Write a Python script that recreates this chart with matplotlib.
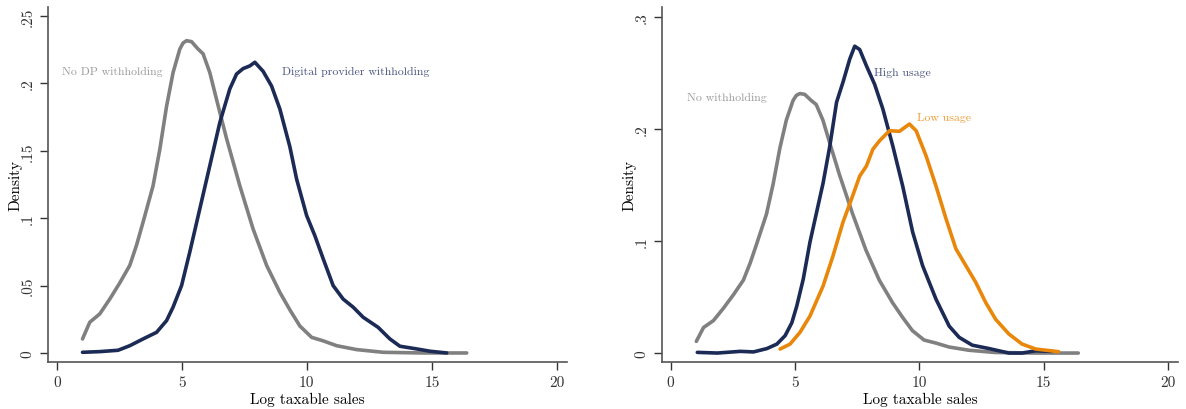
import numpy as np
import matplotlib
matplotlib.use('Agg')
import matplotlib.pyplot as plt

plt.rcParams['font.family'] = ['cmr10', 'DejaVu Serif']
plt.rcParams['axes.unicode_minus'] = False
plt.rcParams['lines.solid_joinstyle'] = 'round'
plt.rcParams['lines.solid_capstyle'] = 'round'

# No withholding (same curve in both panels)
x_none = [1.03, 1.32, 1.72, 2.12, 2.52, 2.92, 3.19, 3.45, 3.85, 4.12, 4.39, 4.65, 4.92,
          5.05, 5.19, 5.39, 5.65, 5.85, 6.12, 6.39, 6.79, 7.32, 7.85, 8.39, 8.92, 9.32,
          9.72, 10.19, 10.65, 11.19, 11.99, 13.05, 14.65, 16.39]
y_none = [0.0104, 0.0228, 0.029, 0.040, 0.052, 0.065, 0.080, 0.097, 0.124, 0.151, 0.183,
          0.208, 0.2255, 0.230, 0.2317, 0.231, 0.2255, 0.222, 0.208, 0.188, 0.159, 0.124,
          0.092, 0.065, 0.045, 0.032, 0.020, 0.0116, 0.009, 0.0054, 0.0025, 0.0005, 0.0,
          0.0]

# Digital provider withholding (left panel)
x_dp = [1.03, 1.72, 2.45, 2.92, 3.45, 3.99, 4.39, 4.65, 4.99, 5.32, 5.72, 6.12, 6.52,
        6.92, 7.19, 7.45, 7.72, 7.92, 8.25, 8.59, 8.92, 9.32, 9.59, 9.99, 10.32, 10.65,
        11.05, 11.45, 11.85, 12.25, 12.85, 13.32, 13.72, 14.39, 14.92, 15.59]
y_dp = [0.0005, 0.001, 0.002, 0.0054, 0.0104, 0.0153, 0.024, 0.034, 0.050, 0.075, 0.107,
        0.139, 0.171, 0.196, 0.207, 0.211, 0.213, 0.2157, 0.209, 0.198, 0.181, 0.153,
        0.129, 0.102, 0.087, 0.070, 0.050, 0.040, 0.034, 0.0265, 0.019, 0.0104, 0.005,
        0.003, 0.0013, 0.0]

# High usage (right panel)
x_high = [1.07, 1.87, 2.8, 3.33, 3.87, 4.27, 4.6, 4.87, 5.07, 5.33, 5.6, 5.87, 6.13, 6.4,
          6.67, 6.93, 7.2, 7.4, 7.6, 7.87, 8.2, 8.53, 8.93, 9.33, 9.73, 10.13, 10.67,
          11.2, 11.6, 12.13, 12.8, 13.6, 14.13, 14.67, 15.33]
y_high = [0.0006, 0.0, 0.0015, 0.001, 0.004, 0.008, 0.0155, 0.027, 0.042, 0.066, 0.099,
          0.126, 0.152, 0.185, 0.224, 0.242, 0.2625, 0.274, 0.271, 0.2565, 0.240, 0.218,
          0.185, 0.149, 0.108, 0.078, 0.048, 0.024, 0.014, 0.007, 0.004, 0.0, 0.0, 0.002,
          0.0015]

# Low usage (right panel)
x_low = [4.4, 4.8, 5.2, 5.6, 6.13, 6.53, 6.93, 7.27, 7.6, 7.87, 8.13, 8.4, 8.8, 9.2, 9.6,
         9.87, 10.27, 10.67, 11.07, 11.47, 11.87, 12.27, 12.67, 13.07, 13.6, 14.13,
         14.67, 15.6]
y_low = [0.0036, 0.008, 0.0185, 0.033, 0.060, 0.087, 0.117, 0.1375, 0.158, 0.167, 0.182,
         0.1896, 0.1985, 0.198, 0.2045, 0.1985, 0.176, 0.149, 0.120, 0.093, 0.078, 0.063,
         0.045, 0.030, 0.017, 0.008, 0.0036, 0.0012]

gray = '#808080'
navy = '#1c2b55'
orange = '#e8870a'

fig = plt.figure(figsize=(11.86, 4.10), dpi=100)
ax1 = fig.add_axes([48/1186, 1-363/410, (567-48)/1186, (363-8)/410])
ax2 = fig.add_axes([662/1186, 1-363/410, (1178-662)/1186, (363-8)/410])

def style(ax, yticks, ylabels, ylim):
    ax.set_xlim(-0.35, 20.4)
    ax.set_ylim(*ylim)
    for s in ['top', 'right']:
        ax.spines[s].set_visible(False)
    for s in ['left', 'bottom']:
        ax.spines[s].set_color('#555555')
        ax.spines[s].set_linewidth(1.2)
    ax.set_xticks([0, 5, 10, 15, 20])
    ax.set_xticklabels(['0', '5', '10', '15', '20'])
    ax.set_yticks(yticks)
    ax.set_yticklabels(ylabels, rotation=90, va='center')
    ax.tick_params(colors='#333333', labelsize=11, length=6, width=1, direction='out')
    ax.set_xlabel('Log taxable sales', fontsize=11, labelpad=2)
    ax.set_ylabel('Density', fontsize=11, labelpad=-1)

ax1.plot(x_none, y_none, color=gray, lw=2.6)
ax1.plot(x_dp, y_dp, color=navy, lw=2.6)
ax1.text(0.2, 0.209, 'No DP withholding', color='#9a9a9a', fontsize=8.5, va='center')
ax1.text(9.0, 0.209, 'Digital provider withholding', color='#4a5480', fontsize=8.5, va='center')
style(ax1, [0, 0.05, 0.1, 0.15, 0.2, 0.25], ['0', '.05', '.1', '.15', '.2', '.25'],
      (-0.0067, 0.2567))

ax2.plot(x_none, y_none, color=gray, lw=2.6)
ax2.plot(x_high, y_high, color=navy, lw=2.6)
ax2.plot(x_low, y_low, color=orange, lw=2.6)
ax2.text(0.64, 0.229, 'No withholding', color='#9a9a9a', fontsize=8.5, va='center')
ax2.text(8.16, 0.251, 'High usage', color='#4a5480', fontsize=8.5, va='center')
ax2.text(9.92, 0.211, 'Low usage', color='#ec9a30', fontsize=8.5, va='center')
style(ax2, [0, 0.1, 0.2, 0.3], ['0', '.1', '.2', '.3'], (-0.008, 0.309))

fig.savefig('out.png', dpi=100)
